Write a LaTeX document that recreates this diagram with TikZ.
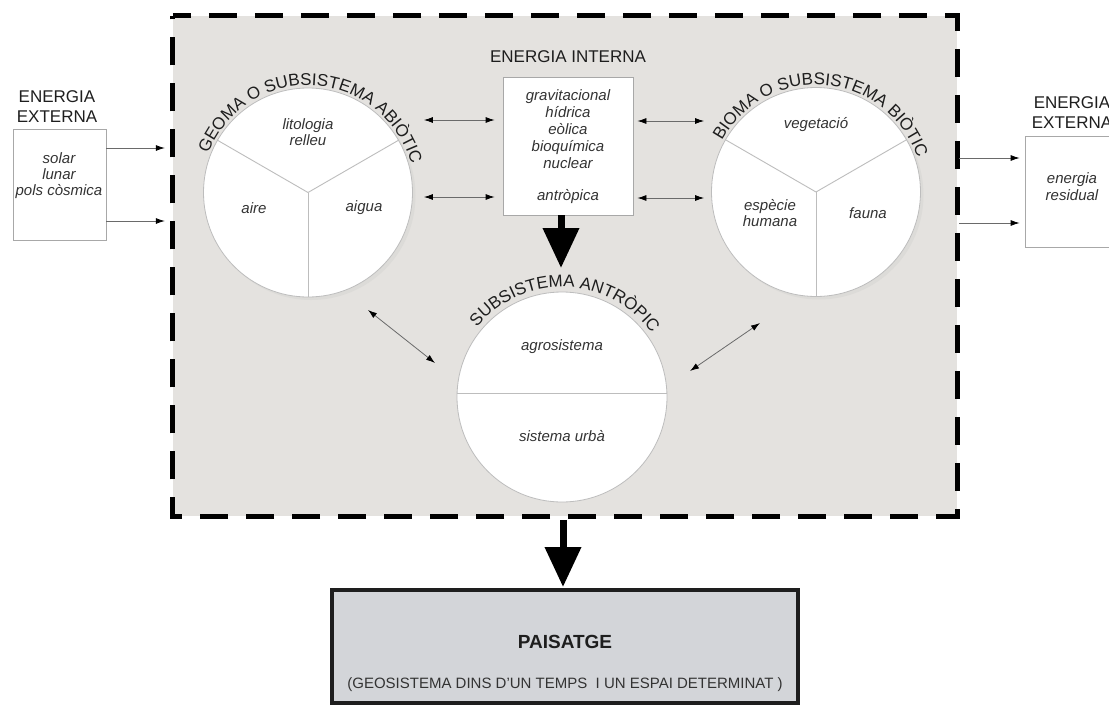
\documentclass[tikz,border=0pt]{standalone}
\usepackage{fontspec}
\setmainfont{Liberation Sans}
\usetikzlibrary{arrows.meta,decorations.text,calc}
\definecolor{framefill}{HTML}{E4E2DF}
\definecolor{paisfill}{HTML}{D3D5D9}
\definecolor{boxgray}{HTML}{A8A8A8}
\definecolor{circgray}{HTML}{BDBDBD}
\definecolor{arrgray}{HTML}{6A6A6A}
\definecolor{txt}{HTML}{1E1E1E}
\definecolor{txtb}{HTML}{333333}
\definecolor{shadowgray}{HTML}{DCDBD8}
\newcommand\curvefont{\color{txt}\fontsize{17}{20}\selectfont}
\begin{document}
\begin{tikzpicture}[x=1pt,y=1pt,
  lbl/.style={font=\fontsize{17}{20.5}\selectfont, text=txt, align=center, inner sep=0pt},
  itx/.style={font=\fontsize{15}{16.5}\selectfont\itshape, text=txtb, align=center, inner sep=0pt},
  wbox/.style={draw=boxgray, line width=0.8pt, fill=white, inner sep=0pt},
  disc/.style={circle, draw=circgray, line width=0.8pt, fill=white, minimum size=209, inner sep=0pt},
  divline/.style={draw=circgray, line width=0.9pt},
  darr/.style={draw=arrgray, line width=0.8pt, {Latex[length=9pt,width=6pt,color=black]}-{Latex[length=9pt,width=6pt,color=black]}},
  sarr/.style={draw=arrgray, line width=0.8pt, -{Latex[length=9pt,width=6pt,color=black]}},
  bigarr/.style={draw=black, line width=7pt, -{Triangle[length=40pt,width=35pt]}},
  framebox/.style={fill=framefill, minimum width=784, minimum height=500, inner sep=0pt},
  framedash/.style={draw=black, line width=5pt, dash pattern=on 28pt off 18pt, dash phase=10pt}
]
\useasboundingbox (0,0) rectangle (1109,-718);

% frame
\node[framebox] (frame) at (565,-266) {};
\draw[framedash] (frame.north west) -- (frame.north east) -- (frame.south east) -- (frame.south west) -- cycle;

% circle centres and shadows
\coordinate (gc) at (308,-192.5);
\coordinate (bc) at (816,-192);
\coordinate (ac) at (562,-397);
\fill[shadowgray] ($(gc)+(3,-3)$) circle[radius=104.5];
\fill[shadowgray] ($(bc)+(3,-3)$) circle[radius=104.5];

% circles
\node[disc] (geoma) at (gc) {};
\node[disc] (bioma) at (bc) {};
\node[disc, minimum size=210] (antrop) at (ac) {};

\draw[divline] (geoma.center) -- (geoma.150);
\draw[divline] (geoma.center) -- (geoma.30);
\draw[divline] (geoma.center) -- (geoma.270);
\draw[divline] (bioma.center) -- (bioma.150);
\draw[divline] (bioma.center) -- (bioma.30);
\draw[divline] (bioma.center) -- (bioma.270);
\draw[divline] ($(antrop.west)+(0,4)$) -- ($(antrop.east)+(0,4)$);

% circle texts
\node[itx] (lito) at (308,-132) {litologia\\relleu};
\node[itx] (aire) at (254,-208) {aire};
\node[itx] (aigua) at (364,-208) {aigua};
\node[itx] (veget) at (816,-125) {vegetació};
\node[itx] (especie) at (770,-213) {espècie\\humana};
\node[itx] (fauna) at (868,-213) {fauna};
\node[itx] (agro) at (562,-347) {agrosistema};
\node[itx] (urba) at (562,-436) {sistema urbà};

% curved titles
\path[decorate, decoration={text along path, text align=center,
  text={|\curvefont|GEOMA O SUBSISTEMA ABIÒTIC}}]
  ($(gc)+(167:107)$) arc[start angle=167, end angle=7, radius=107];
\path[decorate, decoration={text along path, text align=center,
  text={|\curvefont|BIOMA O SUBSISTEMA BIÒTIC}}]
  ($(bc)+(165:107)$) arc[start angle=165, end angle=5, radius=107];
\path[decorate, decoration={text along path, text align=center,
  text={|\curvefont|SUBSISTEMA ANTRÒPIC}}]
  ($(ac)+(150:110)$) arc[start angle=150, end angle=26, radius=110];

% energia interna
\node[wbox, minimum width=130, minimum height=138] (interna) at (568,-146) {};
\node[itx, font=\fontsize{15}{17}\selectfont\itshape] (internatxt) at (568,-147)
  {gravitacional\\hídrica\\eòlica\\bioquímica\\nuclear\\[15pt]antròpica};
\node[lbl] (internalbl) at (568,-57) {ENERGIA INTERNA};

% energia externa left
\node[wbox, minimum width=93, minimum height=111] (extL) at (59.5,-184.5) {};
\node[itx, font=\fontsize{15}{16}\selectfont\itshape] (extLtxt) at (59,-176) {solar\\lunar\\pols còsmica};
\node[lbl] (extLlbl) at (57,-106.5) {ENERGIA\\EXTERNA};

% energia externa right
\node[wbox, minimum width=94, minimum height=111] (extR) at (1072,-191.5) {};
\node[itx, font=\fontsize{15}{17}\selectfont\itshape] (extRtxt) at (1072,-186.5) {energia\\residual};
\node[lbl] (extRlbl) at (1072,-112.5) {ENERGIA\\EXTERNA};

% paisatge
\node[draw=txt, line width=4pt, fill=paisfill, minimum width=466, minimum height=113] (pais) at (565,-646.5) {};
\node[font=\fontsize{19}{22}\selectfont\bfseries, text=txt, inner sep=0pt] (paist) at (565,-642) {PAISATGE};
\node[font=\fontsize{15}{17}\selectfont, text=txtb, inner sep=0pt] (paiss) at (565,-685) {(GEOSISTEMA DINS D'UN TEMPS\ \ I UN ESPAI DETERMINAT )};

% thin arrows, external
\draw[sarr, shorten >=8pt] (extL.east |- 0,-148) -- (frame.west |- 0,-148);
\draw[sarr, shorten >=8pt] (extL.east |- 0,-221) -- (frame.west |- 0,-221);
\draw[sarr, shorten <=2pt, shorten >=5pt] (frame.east |- 0,-158) -- (extR.west |- 0,-158);
\draw[sarr, shorten <=2pt, shorten >=5pt] (frame.east |- 0,-223) -- (extR.west |- 0,-223);

% double arrows
\draw[darr, shorten <=11pt, shorten >=8pt] (geoma.east |- 0,-120) -- (interna.west |- 0,-120);
\draw[darr, shorten <=11pt, shorten >=8pt] (geoma.east |- 0,-197) -- (interna.west |- 0,-197);
\draw[darr, shorten <=4pt, shorten >=7pt] (interna.east |- 0,-121) -- (bioma.west |- 0,-121);
\draw[darr, shorten <=4pt, shorten >=7pt] (interna.east |- 0,-198) -- (bioma.west |- 0,-198);
\coordinate (dl1) at (368,-310);
\coordinate (dl2) at (435,-363);
\coordinate (dr1) at (690,-371);
\coordinate (dr2) at (760,-323);
\draw[darr] (dl1) -- (dl2);
\draw[darr] (dr1) -- (dr2);

% big arrows
\draw[bigarr] (561,-215) -- (561,-268);
\draw[bigarr, shorten <=4pt] (563,-516) -- (563,-587);
\end{tikzpicture}
\end{document}
